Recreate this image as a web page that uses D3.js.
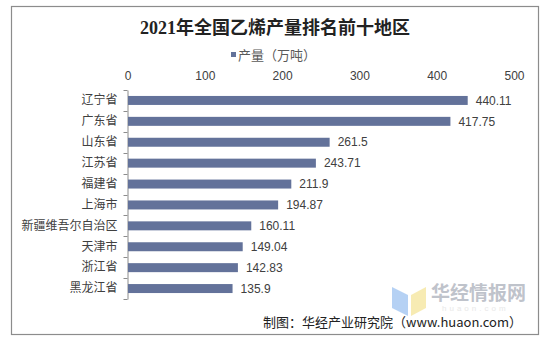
<!DOCTYPE html>
<html><head><meta charset="utf-8">
<script src="https://cdn.jsdelivr.net/npm/d3@7"></script>
<style>body{margin:0;background:#fff}svg{display:block}</style>
</head><body>
<script>
const categories = ["辽宁省","广东省","山东省","江苏省","福建省","上海市","新疆维吾尔自治区","天津市","浙江省","黑龙江省"];
const values = [440.11,417.75,261.5,243.71,211.9,194.87,160.11,149.04,142.83,135.9];
const valueLabels = ["440.11","417.75","261.5","243.71","211.9","194.87","160.11","149.04","142.83","135.9"];
const tickValues = [0,100,200,300,400,500];
const title = "2021年全国乙烯产量排名前十地区";
const seriesName = "产量（万吨）";
const source = "制图：华经产业研究院（www.huaon.com）";

const W=550,H=344;
const svg=d3.select("body").append("svg").attr("width",W).attr("height",H);
const cjk='"Noto Sans CJK SC","Liberation Sans",sans-serif';

svg.append("rect").attr("x",11.5).attr("y",6.5).attr("width",527).attr("height",328)
  .attr("fill","#fff").attr("stroke","#8c8c8c").attr("stroke-width",1.2);

svg.append("text").attr("x",275).attr("y",34).attr("text-anchor","middle")
  .style("font-family",'"Liberation Serif","Noto Sans CJK SC",serif').style("font-weight","bold")
  .style("font-size","18px").attr("fill","#222").text(title);

// legend
svg.append("rect").attr("x",231).attr("y",52).attr("width",5).attr("height",5).attr("fill","#63729a");
svg.append("text").attr("x",238).attr("y",59.5).style("font-family",cjk).style("font-size","13px")
  .attr("fill","#595959").text(seriesName);

const x=d3.scaleLinear().domain([0,500]).range([127.5,514]);
const y=d3.scaleBand().domain(categories).range([90,299]).paddingInner(0.57).paddingOuter(0.285);

// top axis labels
const xa=svg.append("g").attr("transform","translate(0,80)")
  .call(d3.axisTop(x).tickValues(tickValues).tickSize(0).tickPadding(0));
xa.select(".domain").remove();
xa.selectAll("text").style("font-family",'"Liberation Sans",Arial,sans-serif').style("font-size","12px").attr("fill","#404040");

// left axis
const ya=svg.append("g").attr("transform","translate(127.5,0)")
  .call(d3.axisLeft(y).tickSize(0).tickPadding(10));
ya.select(".domain").attr("stroke","#8c8c8c");
ya.selectAll("text").style("font-family",cjk).style("font-size","12px").attr("fill","#404040");
// tick marks at band boundaries
const bounds=categories.map(c=>y(c)-y.step()*y.paddingInner()/2).concat([299]);
svg.append("g").selectAll("line").data(bounds).join("line")
  .attr("x1",123.5).attr("x2",127.5).attr("y1",d=>Math.round(d)+0.5).attr("y2",d=>Math.round(d)+0.5)
  .attr("stroke","#8c8c8c");

svg.append("g").selectAll("rect").data(values).join("rect")
  .attr("x",x(0)+0.5).attr("y",(d,i)=>y(categories[i]))
  .attr("width",d=>x(d)-x(0)-0.5).attr("height",y.bandwidth()).attr("fill","#63729a");

svg.append("g").selectAll("text").data(values).join("text")
  .attr("x",d=>x(d)+8).attr("y",(d,i)=>y(categories[i])+y.bandwidth()/2).attr("dy","0.35em")
  .style("font-family",'"Liberation Sans",Arial,sans-serif').style("font-size","12px").attr("fill","#404040")
  .text((d,i)=>valueLabels[i]);

// watermark
svg.append("polygon").attr("points","392,287 408,295 408,316 392,308").attr("fill","#a8c9f2").attr("opacity",0.85);
svg.append("polygon").attr("points","411,295 426,287 426,308 411,316").attr("fill","#f6e7a6").attr("opacity",0.85);
svg.append("text").attr("x",431).attr("y",300).style("font-family",cjk).style("font-weight","bold")
  .style("font-size","19px").attr("fill","#bfc3cb").text("华经情报网");
svg.append("text").attr("x",442).attr("y",310.5).style("font-family",'"Liberation Sans",sans-serif')
  .style("font-size","8px").attr("fill","#e8e8e8").attr("letter-spacing","3px").text("huaon.com");

svg.append("text").attr("x",522).attr("y",327).attr("text-anchor","end").style("font-family",cjk)
  .style("font-size","13px").attr("fill","#222").text(source);
</script>
</body></html>
